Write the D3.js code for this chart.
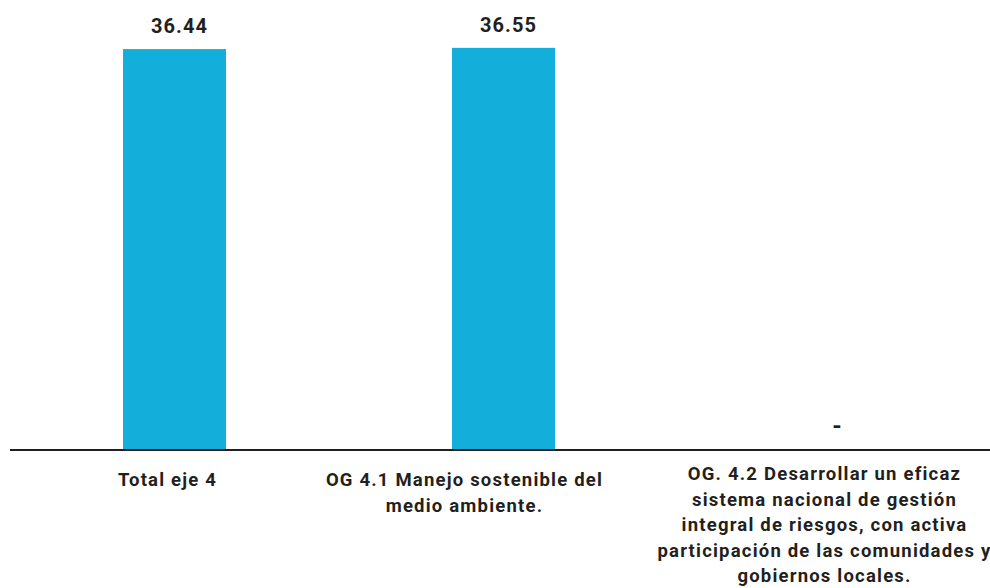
<!DOCTYPE html>
<html><head><meta charset="utf-8">
<script src="https://cdn.jsdelivr.net/npm/d3@7"></script>
<style>body{margin:0;background:#fff}svg{display:block}</style>
</head><body>
<svg id="c" width="990" height="588"></svg>
<script>
const categories = [
  "Total eje 4",
  "OG 4.1 Manejo sostenible del\nmedio ambiente.",
  "OG. 4.2 Desarrollar un eficaz\nsistema nacional de gestión\nintegral de riesgos, con activa\nparticipación de las comunidades y\ngobiernos locales."
];
const values = [36.44, 36.55, null];
const valueLabels = ["36.44", "36.55", "-"];

const svg = d3.select("#c");
const font = "Roboto, 'DejaVu Sans', sans-serif";
const x = d3.scaleBand().domain(d3.range(categories.length)).range([10, 997]).padding(0);
const barW = x.bandwidth() * 0.313;
const y = d3.scaleLinear().domain([0, 40.9]).range([450, 0]);

svg.selectAll("rect.bar").data(values).join("rect")
  .attr("class", "bar")
  .attr("x", (d, i) => x(i) + x.bandwidth() / 2 - barW / 2)
  .attr("width", barW)
  .attr("y", d => y(d || 0))
  .attr("height", d => y(0) - y(d || 0))
  .attr("fill", "#13AFDA");

const axis = d3.axisBottom(x).tickSize(0).tickFormat("");
const ag = svg.append("g").attr("transform", `translate(0,${y(0)})`).call(axis);
ag.select(".domain").attr("d", `M10,0H990`).attr("stroke", "#231f20").attr("stroke-width", 2);

svg.selectAll("text.val").data(values).join("text")
  .attr("class", "val")
  .attr("x", (d, i) => x(i) + x.bandwidth() / 2 + 5)
  .attr("y", d => y(d || 0) - 16)
  .attr("text-anchor", "middle")
  .attr("font-family", font).attr("font-weight", 700)
  .attr("font-size", (d, i) => valueLabels[i] === "-" ? 24 : 20)
  .attr("letter-spacing", 1.1)
  .attr("fill", "#231f20")
  .text((d, i) => valueLabels[i]);

const labelDx = [-7, -39, -8];
const labelY = [486, 486, 480];
const lg = svg.selectAll("text.cat").data(categories).join("text")
  .attr("class", "cat")
  .attr("text-anchor", "middle")
  .attr("font-family", font).attr("font-weight", 700).attr("font-size", 18.5)
  .attr("letter-spacing", 1.2)
  .attr("fill", "#231f20");
lg.each(function(d, i) {
  const t = d3.select(this);
  d.split("\n").forEach((line, j) => {
    t.append("tspan")
      .attr("x", x(i) + x.bandwidth() / 2 + labelDx[i])
      .attr("y", labelY[i] + j * 25.5)
      .text(line);
  });
});
</script>
</body></html>
